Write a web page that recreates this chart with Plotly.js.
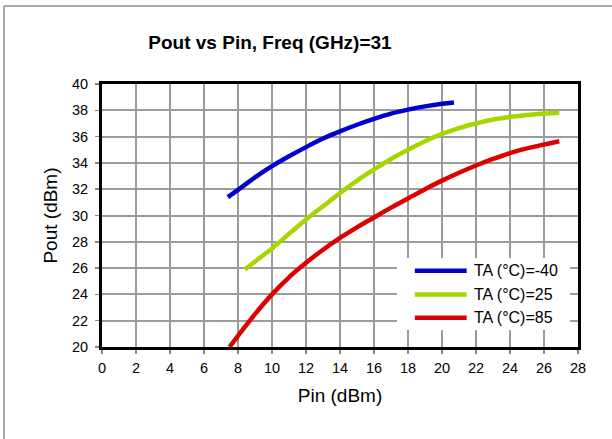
<!DOCTYPE html>
<html>
<head>
<meta charset="utf-8">
<script src="https://cdn.plot.ly/plotly-3.0.1.min.js"></script>
<style>
  html, body { margin: 0; padding: 0; background: #fff; }
  #chart { width: 612px; height: 439px; }
</style>
</head>
<body>
<div id="chart"></div>
<script>
// Output power versus input power at 31 GHz, one curve per ambient temperature
const seriesNames = ['TA (°C)=-40', 'TA (°C)=25', 'TA (°C)=85'];
const seriesColors = ['#0000cc', '#a6d600', '#dd0000'];

const pinCold = [7.4, 8, 9, 10, 11, 12, 13, 14, 15, 16, 17, 18, 19, 20, 20.7];
const poutCold = [31.4, 31.95, 32.9, 33.75, 34.5, 35.2, 35.85, 36.4, 36.9, 37.35, 37.75, 38.05, 38.3, 38.5, 38.6];

const pinRoom = [8.4, 9, 10, 11, 12, 13, 14, 15, 16, 17, 18, 19, 20, 21, 22, 23, 24, 25, 26, 26.9];
const poutRoom = [25.9, 26.5, 27.5, 28.6, 29.7, 30.7, 31.7, 32.65, 33.5, 34.3, 35.0, 35.65, 36.2, 36.65, 37.0, 37.3, 37.5, 37.65, 37.75, 37.82];

const pinHot = [7.5, 8, 9, 10, 11, 12, 13, 14, 15, 16, 17, 18, 19, 20, 21, 22, 23, 24, 25, 26, 26.9];
const poutHot = [20.0, 20.85, 22.5, 24.0, 25.3, 26.4, 27.4, 28.3, 29.1, 29.85, 30.6, 31.3, 32.0, 32.65, 33.25, 33.8, 34.3, 34.75, 35.1, 35.4, 35.65];

const xTicks = [0, 2, 4, 6, 8, 10, 12, 14, 16, 18, 20, 22, 24, 26, 28];
const yTicks = [20, 22, 24, 26, 28, 30, 32, 34, 36, 38, 40];

const xs = [pinCold, pinRoom, pinHot];
const ys = [poutCold, poutRoom, poutHot];

const FONT = 'Liberation Sans, Arial, sans-serif';

const traces = xs.map((x, i) => ({
  type: 'scatter',
  mode: 'lines',
  x: x,
  y: ys[i],
  name: seriesNames[i],
  line: { color: seriesColors[i], width: 4.5, shape: 'spline', smoothing: 1 },
  showlegend: false,
  hoverinfo: 'x+y'
}));

// plot-area geometry in pixels, used to place the outer frame
const W = 612, H = 439;
const M = { l: 102, r: 34, t: 84, b: 92 };
const pw = W - M.l - M.r, ph = H - M.t - M.b;
const px = v => (v - M.l) / pw;
const py = v => (H - M.b - v) / ph;

const frame = { color: '#8c8c8c', width: 1.5 };
const shapes = [
  // outer chart frame: left and top edges
  { type: 'line', xref: 'paper', yref: 'paper', x0: px(4), x1: px(4), y0: py(6), y1: py(H), line: frame, layer: 'below' },
  { type: 'line', xref: 'paper', yref: 'paper', x0: px(4), x1: px(W), y0: py(6), y1: py(6), line: frame, layer: 'below' },
  // legend box
  { type: 'rect', xref: 'x', yref: 'y', x0: 17.35, x1: 27.53, y0: 21.29, y1: 26.77,
    line: { width: 0 }, fillcolor: '#ffffff', layer: 'above' }
];

const legendY = [25.8, 24.0, 22.23];
const annotations = [];
seriesNames.forEach((name, i) => {
  shapes.push({ type: 'line', xref: 'x', yref: 'y', x0: 18.4, x1: 21.45, y0: legendY[i], y1: legendY[i],
    line: { color: seriesColors[i], width: 4.5 }, layer: 'above' });
  annotations.push({ xref: 'x', yref: 'y', x: 21.75, y: legendY[i], text: name, showarrow: false,
    xanchor: 'left', yanchor: 'middle', font: { family: FONT, size: 16, color: '#000' } });
});

const axisBase = {
  showgrid: true, gridcolor: '#9c9c9c', gridwidth: 2,
  showline: true, linecolor: '#000000', linewidth: 3, mirror: true,
  ticks: 'outside', ticklen: 4, tickcolor: '#888888', tickwidth: 1.5,
  zeroline: false, tickfont: { family: FONT, size: 14.5, color: '#000' },
  fixedrange: true
};

const layout = {
  width: W, height: H,
  margin: M,
  paper_bgcolor: '#ffffff', plot_bgcolor: '#ffffff',
  showlegend: false,
  title: { text: '<b>Pout vs Pin, Freq (GHz)=31</b>', font: { family: FONT, size: 19, color: '#000' },
           xref: 'container', x: 270 / W, xanchor: 'center', yref: 'container', y: 1 - 42 / H, yanchor: 'middle' },
  xaxis: Object.assign({}, axisBase, {
    range: [0, 28], tickvals: xTicks, ticktext: xTicks.map(String),
    ticklabelstandoff: 2,
    title: { text: 'Pin (dBm)', font: { family: FONT, size: 19, color: '#000' }, standoff: 14 }
  }),
  yaxis: Object.assign({}, axisBase, {
    range: [20, 40], tickvals: yTicks, ticktext: yTicks.map(String),
    ticklabelstandoff: 4,
    title: { text: 'Pout (dBm)', font: { family: FONT, size: 19, color: '#000' }, standoff: 10 }
  }),
  shapes: shapes,
  annotations: annotations
};

Plotly.newPlot('chart', traces, layout, { displayModeBar: false, staticPlot: true });
</script>
</body>
</html>
